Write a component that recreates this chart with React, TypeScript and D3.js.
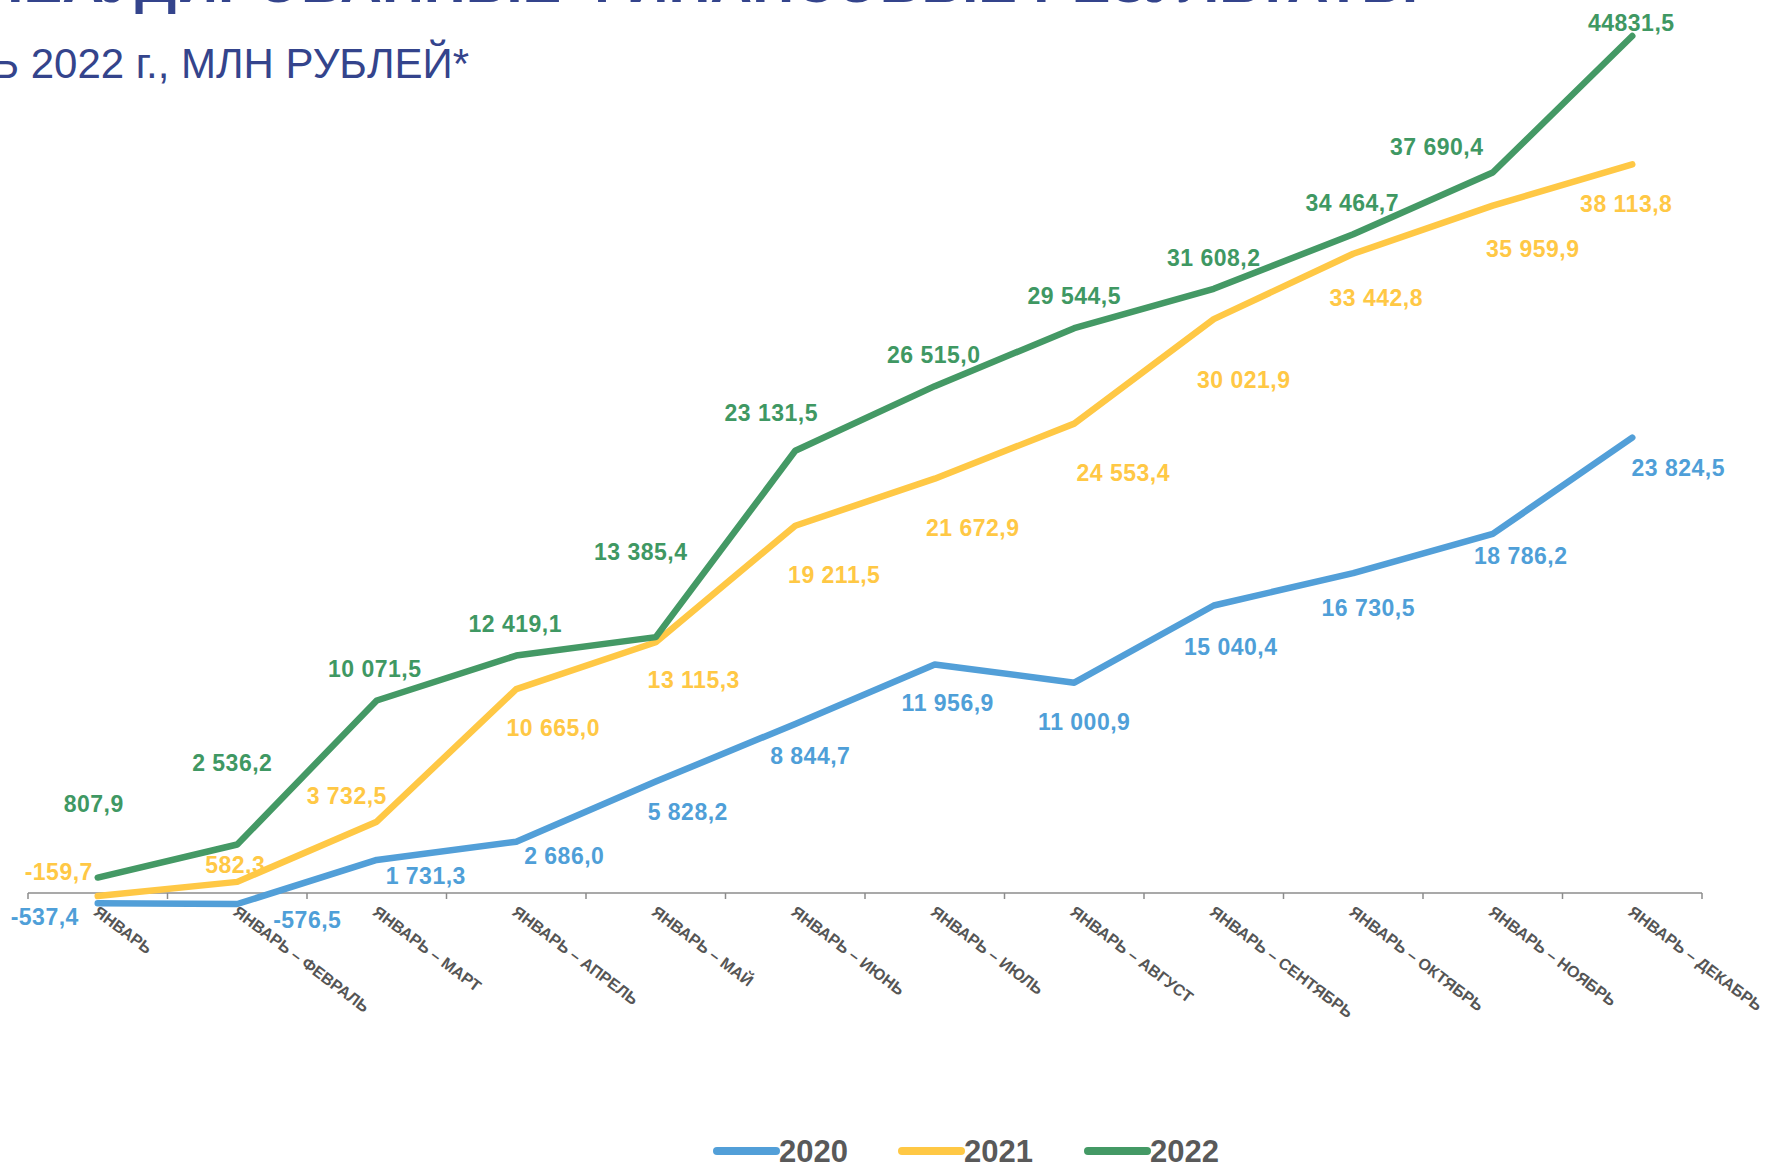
import React from 'react';
import * as d3 from 'd3';

const categories = [
  'ЯНВАРЬ', 'ЯНВАРЬ – ФЕВРАЛЬ', 'ЯНВАРЬ – МАРТ', 'ЯНВАРЬ – АПРЕЛЬ', 'ЯНВАРЬ – МАЙ', 'ЯНВАРЬ – ИЮНЬ',
  'ЯНВАРЬ – ИЮЛЬ', 'ЯНВАРЬ – АВГУСТ', 'ЯНВАРЬ – СЕНТЯБРЬ', 'ЯНВАРЬ – ОКТЯБРЬ', 'ЯНВАРЬ – НОЯБРЬ', 'ЯНВАРЬ – ДЕКАБРЬ',
];

const values2020 = [-537.4, -576.5, 1731.3, 2686.0, 5828.2, 8844.7, 11956.9, 11000.9, 15040.4, 16730.5, 18786.2, 23824.5];
const values2021 = [-159.7, 582.3, 3732.5, 10665.0, 13115.3, 19211.5, 21672.9, 24553.4, 30021.9, 33442.8, 35959.9, 38113.8];
const values2022 = [807.9, 2536.2, 10071.5, 12419.1, 13385.4, 23131.5, 26515.0, 29544.5, 31608.2, 34464.7, 37690.4, 44831.5];

// the source prints the last 2022 value without a thousands gap
const labelOverrides2022: Record<number, string> = { 11: '44831,5' };

// hand placed data label offsets (px from the point)
const offsets2020 = [[-53, 14], [70, 16], [49, 16], [48, 14], [32, 30], [15, 32], [13, 39], [10, 39], [17, 41], [15, 35], [28, 22], [46, 30]];
const offsets2021 = [[-39, -24], [-2, -17], [-30, -26], [37, 39], [38, 38], [39, 49], [38, 49], [49, 49], [30, 61], [23, 44], [40, 43], [-6, 40]];
const offsets2022 = [[-4, -74], [-5, -82], [-2, -32], [-1, -32], [-15, -85], [-24, -38], [-1, -31], [0, -32], [0, -31], [-1, -31], [-56, -26], [-1, -13]];

const series = [
  { name: '2020', values: values2020, offsets: offsets2020, color: '#529fd8', text: '#4f9fd8', overrides: {} as Record<number, string> },
  { name: '2021', values: values2021, offsets: offsets2021, color: '#ffc845', text: '#ffc845', overrides: {} as Record<number, string> },
  { name: '2022', values: values2022, offsets: offsets2022, color: '#449965', text: '#3f9863', overrides: labelOverrides2022 },
];

const legendX = [717, 902, 1088];

const W = 1767, H = 1162;
const FONT = '"Liberation Sans", Arial, sans-serif';

const ru = d3.formatLocale({ decimal: ',', thousands: ' ', grouping: [3], currency: ['', ''], minus: '-' });
const fmt = ru.format(',.1f');

export default function App() {
  const x = d3.scaleBand<string>().domain(categories).range([28, 1702]).padding(0);
  const y = d3.scaleLinear().domain([0, 45000]).range([893, 893 - 45000 * 0.019116]);
  const cx = (i: number) => (x(categories[i]) as number) + x.bandwidth() / 2;
  const line = d3.line<number>().x((d, i) => cx(i)).y(d => y(d));
  const y0 = y(0);
  const boundaries = categories.map(c => x(c) as number).concat([x.range()[1]]);

  return (
    <div style={{ position: 'absolute', left: 0, top: 0 }}>
      <svg width={W} height={H} style={{ display: 'block', background: '#fff' }} fontFamily={FONT}>
        {/* titles, cut by the top and left edge like the slide */}
        <text x={1418} y={2} textAnchor="end" fontSize={58} fontWeight="bold" fill="#34448c">
          НЕАУДИРОВАННЫЕ ФИНАНСОВЫЕ РЕЗУЛЬТАТЫ
        </text>
        <text x={469} y={78} textAnchor="end" fontSize={42} fill="#34448c">
          ЗА ЯНВАРЬ – ДЕКАБРЬ 2022 г., МЛН РУБЛЕЙ*
        </text>

        {/* axis */}
        <line x1={x.range()[0]} x2={x.range()[1]} y1={y0} y2={y0} stroke="#8c8c8c" strokeWidth={1.5} />
        {boundaries.map((b, i) => (
          <line key={i} x1={b} x2={b} y1={y0} y2={y0 + 6} stroke="#8c8c8c" strokeWidth={1.5} />
        ))}
        {categories.map((c, i) => (
          <text key={c} transform={`translate(${cx(i) - 5},${y0 + 21}) rotate(37)`} fontSize={16}
            fontWeight="bold" fill="#555555">{c}</text>
        ))}

        {/* lines */}
        {series.map(s => (
          <path key={s.name} d={line(s.values) || ''} fill="none" stroke={s.color} strokeWidth={6.5}
            strokeLinejoin="round" strokeLinecap="round" />
        ))}

        {/* data labels */}
        {series.map(s => s.values.map((v, i) => (
          <text key={s.name + i} x={cx(i) + s.offsets[i][0]} y={y(v) + s.offsets[i][1]} dy="0.35em"
            textAnchor="middle" fontSize={23} letterSpacing={0.5} fontWeight="bold" fill={s.text}>
            {s.overrides[i] ?? fmt(v)}
          </text>
        )))}

        {/* legend */}
        {series.map((s, i) => (
          <g key={s.name}>
            <line x1={legendX[i]} x2={legendX[i] + 59} y1={1151} y2={1151} stroke={s.color} strokeWidth={8}
              strokeLinecap="round" />
            <text x={legendX[i] + 62} y={1162} fontSize={31} fontWeight="bold" fill="#595959">{s.name}</text>
          </g>
        ))}
      </svg>
    </div>
  );
}
